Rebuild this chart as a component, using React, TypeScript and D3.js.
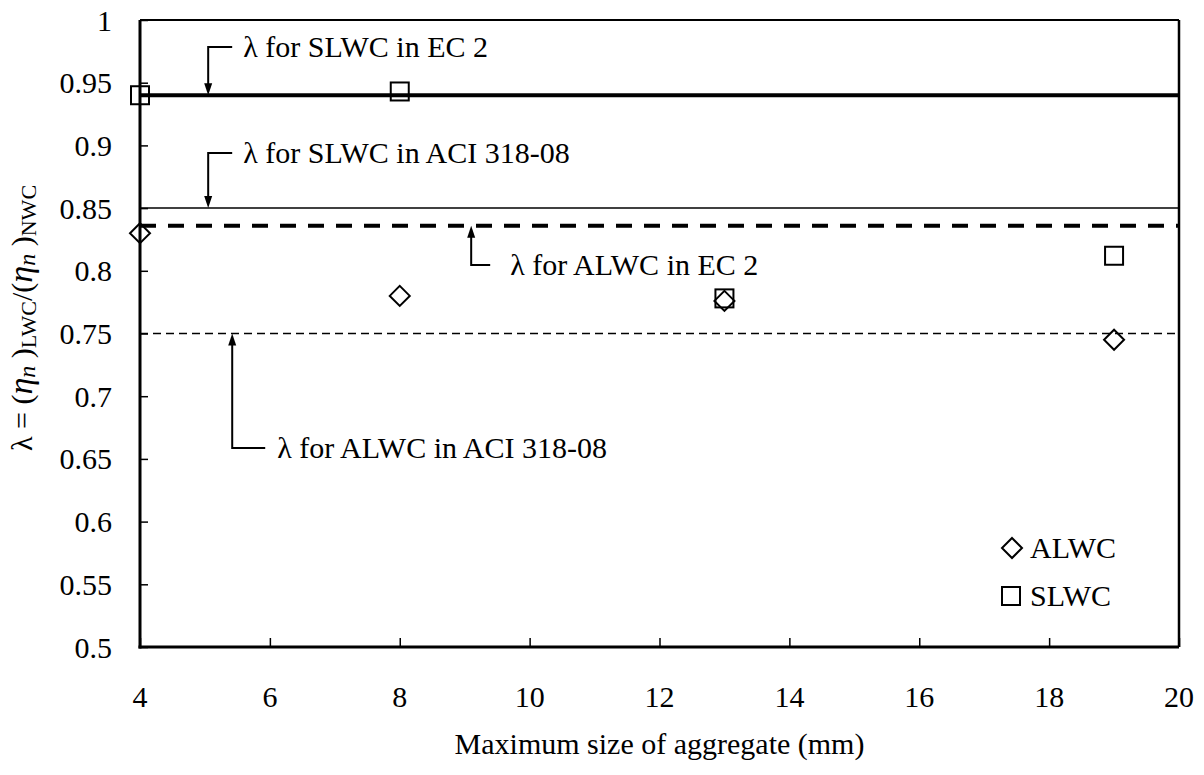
import React, { useEffect, useRef } from 'react';
import * as d3 from 'd3';

const xTicks = [4, 6, 8, 10, 12, 14, 16, 18, 20];
const yTicks = [0.5, 0.55, 0.6, 0.65, 0.7, 0.75, 0.8, 0.85, 0.9, 0.95, 1];

const alwcX = [4, 8, 13, 19];
const alwcY = [0.83, 0.78, 0.776, 0.745];
const slwcX = [4, 8, 13, 19];
const slwcY = [0.94, 0.943, 0.778, 0.812];

// code values for lambda
const refNames = ['SLWC in EC 2', 'SLWC in ACI 318-08', 'ALWC in EC 2', 'ALWC in ACI 318-08'];
const refValues = [0.94, 0.85, 0.836, 0.75];
// annotation anchors (data units): arrow x, bracket y
const noteX = [5.05, 5.05, 9.1, 5.42];
const noteY = [0.9785, 0.894, 0.8046, 0.6587];

const FONT = 'Liberation Serif, Times New Roman, DejaVu Serif, serif';

function App() {
  const ref = useRef<SVGSVGElement>(null);

  useEffect(() => {
    const W = 1204, H = 775;
    const left = 140, right = 1179, top = 20, bottom = 647;
    const svg = d3.select(ref.current).attr('width', W).attr('height', H)
      .style('font-family', FONT);
    svg.selectAll('*').remove();

    const x = d3.scaleLinear().domain([4, 20]).range([left, right]);
    const y = d3.scaleLinear().domain([0.5, 1]).range([bottom, top]);

    svg.append('rect').attr('width', W).attr('height', H).attr('fill', '#fff');

    // frame
    svg.append('line').attr('x1', left).attr('x2', right).attr('y1', top).attr('y2', top)
      .attr('stroke', '#000').attr('stroke-width', 2);
    svg.append('line').attr('x1', right).attr('x2', right).attr('y1', top).attr('y2', bottom)
      .attr('stroke', '#000').attr('stroke-width', 2.5);

    // reference lines
    const styles = [
      { w: 4, dash: null },
      { w: 1.5, dash: null },
      { w: 4, dash: '16,12' },
      { w: 1.5, dash: '8,5' },
    ];
    refValues.forEach((v, i) => {
      const l = svg.append('line')
        .attr('x1', x(4)).attr('x2', x(20))
        .attr('y1', y(v)).attr('y2', y(v))
        .attr('stroke', '#000').attr('stroke-width', styles[i].w);
      if (styles[i].dash) l.attr('stroke-dasharray', styles[i].dash);
    });

    // axes
    const yAxis = svg.append('g').attr('transform', `translate(${left},0)`)
      .call(d3.axisRight(y).tickValues(yTicks).tickSize(8).tickFormat(() => ''));
    yAxis.select('.domain').attr('stroke-width', 3).attr('d', `M0,${top}V${bottom + 1.5}`);
    yAxis.selectAll('.tick line').attr('stroke-width', 1.5);

    const xAxis = svg.append('g').attr('transform', `translate(0,${bottom})`)
      .call(d3.axisTop(x).tickValues(xTicks).tickSize(9).tickFormat(() => ''));
    xAxis.select('.domain').attr('stroke-width', 3).attr('d', `M${left - 1.5},0H${right}`);
    xAxis.selectAll('.tick line').attr('stroke-width', 1.5);

    svg.append('g').selectAll('text').data(yTicks).enter().append('text')
      .attr('x', 112).attr('y', d => y(d) + 10.5)
      .attr('text-anchor', 'end')
      .style('font-family', FONT).attr('font-size', 30)
      .text(d => String(d));

    svg.append('g').selectAll('text').data(xTicks).enter().append('text')
      .attr('x', d => x(d)).attr('y', 707)
      .attr('text-anchor', 'middle')
      .style('font-family', FONT).attr('font-size', 30)
      .text(d => String(d));

    svg.append('text')
      .attr('x', (left + right) / 2).attr('y', 754)
      .attr('text-anchor', 'middle')
      .style('font-family', FONT).attr('font-size', 30)
      .text('Maximum size of aggregate (mm)');

    // y label
    const yl = svg.append('text')
      .attr('transform', 'translate(32,318) rotate(-90)')
      .attr('text-anchor', 'middle')
      .style('font-family', FONT).attr('font-size', 30);
    yl.append('tspan').text('λ = (');
    yl.append('tspan').attr('font-style', 'italic').attr('font-size', 34).text('η');
    yl.append('tspan').attr('font-style', 'italic').attr('font-size', 24).attr('dy', 3).text('n');
    yl.append('tspan').attr('dy', -3).text(' )');
    yl.append('tspan').attr('font-size', 22).attr('dy', 4).text('LWC');
    yl.append('tspan').attr('dy', -4).text('/(');
    yl.append('tspan').attr('font-style', 'italic').attr('font-size', 34).text('η');
    yl.append('tspan').attr('font-style', 'italic').attr('font-size', 24).attr('dy', 3).text('n');
    yl.append('tspan').attr('dy', -3).text(' )');
    yl.append('tspan').attr('font-size', 22).attr('dy', 4).text('NWC');

    // annotations
    const textDx = [35, 35, 39, 45];
    refValues.forEach((v, i) => {
      const ax = x(noteX[i]);
      const by = y(noteY[i]);
      const tipY = y(v);
      const down = tipY > by;
      const armEnd = ax + (i === 3 ? 33 : i === 2 ? 19 : 24);
      svg.append('path')
        .attr('d', `M${armEnd},${by}H${ax}V${down ? tipY - 11 : tipY + 11}`)
        .attr('fill', 'none').attr('stroke', '#000').attr('stroke-width', 2);
      const s = down ? -1 : 1;
      svg.append('path')
        .attr('d', `M${ax},${tipY}L${ax - 4},${tipY + s * 12}L${ax + 4},${tipY + s * 12}Z`)
        .attr('fill', '#000');
      svg.append('text')
        .attr('x', ax + textDx[i]).attr('y', by + 10)
        .style('font-family', FONT).attr('font-size', 30)
        .text('λ for ' + refNames[i]);
    });

    // points
    const sq = 18, dm = 10;
    const diamond = (cx: number, cy: number) => `M${cx},${cy - dm}L${cx + dm},${cy}L${cx},${cy + dm}L${cx - dm},${cy}Z`;

    svg.append('g').selectAll('rect').data(slwcX.map((d, i) => [d, slwcY[i]])).enter().append('rect')
      .attr('x', d => x(d[0]) - sq / 2).attr('y', d => y(d[1]) - sq / 2)
      .attr('width', sq).attr('height', sq)
      .attr('fill', 'none').attr('stroke', '#000').attr('stroke-width', 2);

    svg.append('g').selectAll('path').data(alwcX.map((d, i) => [d, alwcY[i]])).enter().append('path')
      .attr('d', d => diamond(x(d[0]), y(d[1])))
      .attr('fill', 'none').attr('stroke', '#000').attr('stroke-width', 2);

    // legend
    svg.append('path').attr('d', diamond(1012, 548))
      .attr('fill', 'none').attr('stroke', '#000').attr('stroke-width', 2);
    svg.append('text').attr('x', 1030).attr('y', 558)
      .style('font-family', FONT).attr('font-size', 30).text('ALWC');
    svg.append('rect').attr('x', 1011 - sq / 2).attr('y', 596 - sq / 2).attr('width', sq).attr('height', sq)
      .attr('fill', 'none').attr('stroke', '#000').attr('stroke-width', 2);
    svg.append('text').attr('x', 1030).attr('y', 606)
      .style('font-family', FONT).attr('font-size', 30).text('SLWC');
  }, []);

  return (
    <div style={{ position: 'fixed', left: 0, top: 0 }}>
      <svg ref={ref} style={{ display: 'block' }}></svg>
    </div>
  );
}

export default App;
